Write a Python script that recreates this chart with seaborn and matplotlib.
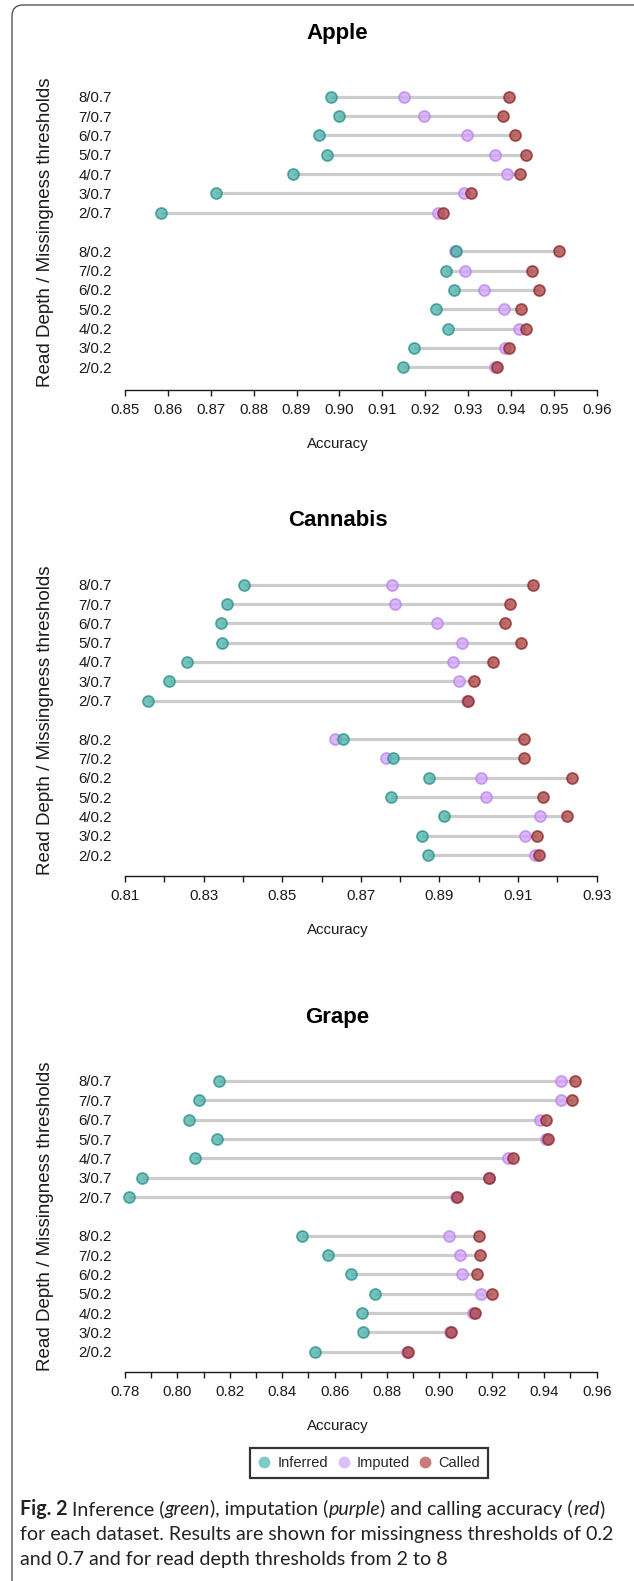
import matplotlib
matplotlib.use("Agg")
import matplotlib.pyplot as plt
from matplotlib.lines import Line2D
from matplotlib.patches import FancyBboxPatch
from matplotlib.transforms import IdentityTransform
from matplotlib.font_manager import FontProperties
import seaborn as sns

# ---- data (rows top to bottom: 8/0.7 ... 2/0.7, 8/0.2 ... 2/0.2) ----
row_labels = ["8/0.7", "7/0.7", "6/0.7", "5/0.7", "4/0.7", "3/0.7", "2/0.7",
              "8/0.2", "7/0.2", "6/0.2", "5/0.2", "4/0.2", "3/0.2", "2/0.2"]
row_pos = [15, 14, 13, 12, 11, 10, 9, 7, 6, 5, 4, 3, 2, 1]

apple_inferred = [0.8980, 0.9000, 0.8952, 0.8972, 0.8891, 0.8712, 0.8584,
                  0.9273, 0.9249, 0.9268, 0.9225, 0.9254, 0.9174, 0.9148]
apple_imputed = [0.9150, 0.9197, 0.9298, 0.9362, 0.9390, 0.9290, 0.9229,
                 0.9270, 0.9293, 0.9338, 0.9383, 0.9419, 0.9386, 0.9363]
apple_called = [0.9395, 0.9381, 0.9409, 0.9434, 0.9420, 0.9308, 0.9241,
                0.9513, 0.9449, 0.9465, 0.9423, 0.9434, 0.9395, 0.9368]

cannabis_inferred = [0.8404, 0.8359, 0.8344, 0.8346, 0.8258, 0.8212, 0.8158,
                     0.8655, 0.8783, 0.8874, 0.8776, 0.8912, 0.8855, 0.8870]
cannabis_imputed = [0.8778, 0.8786, 0.8894, 0.8957, 0.8934, 0.8950, 0.8970,
                    0.8635, 0.8763, 0.9006, 0.9018, 0.9155, 0.9118, 0.9143]
cannabis_called = [0.9138, 0.9079, 0.9067, 0.9108, 0.9037, 0.8987, 0.8973,
                   0.9114, 0.9116, 0.9237, 0.9163, 0.9224, 0.9147, 0.9153]

grape_inferred = [0.8159, 0.8084, 0.8044, 0.8150, 0.8068, 0.7866, 0.7815,
                  0.8475, 0.8576, 0.8662, 0.8754, 0.8704, 0.8707, 0.8525]
grape_imputed = [0.9464, 0.9464, 0.9382, 0.9405, 0.9260, 0.9188, 0.9064,
                 0.9036, 0.9077, 0.9086, 0.9157, 0.9127, 0.9040, 0.8878]
grape_called = [0.9517, 0.9507, 0.9405, 0.9414, 0.9282, 0.9190, 0.9066,
                0.9150, 0.9155, 0.9144, 0.9199, 0.9136, 0.9044, 0.8881]

apple_ticks = [0.85, 0.86, 0.87, 0.88, 0.89, 0.90, 0.91, 0.92, 0.93, 0.94, 0.95, 0.96]
apple_ticklabels = ["0.85", "0.86", "0.87", "0.88", "0.89", "0.90",
                    "0.91", "0.92", "0.93", "0.94", "0.95", "0.96"]
cannabis_ticks = [0.81, 0.82, 0.83, 0.84, 0.85, 0.86, 0.87, 0.88, 0.89, 0.90, 0.91, 0.92, 0.93]
cannabis_ticklabels = ["0.81", "", "0.83", "", "0.85", "", "0.87", "",
                       "0.89", "", "0.91", "", "0.93"]
grape_ticks = [0.78, 0.79, 0.80, 0.81, 0.82, 0.83, 0.84, 0.85, 0.86, 0.87,
               0.88, 0.89, 0.90, 0.91, 0.92, 0.93, 0.94, 0.95, 0.96]
grape_ticklabels = ["0.78", "", "0.80", "", "0.82", "", "0.84", "", "0.86", "",
                    "0.88", "", "0.90", "", "0.92", "", "0.94", "", "0.96"]

series_names = ["Inferred", "Imputed", "Called"]

# ---- style ----
W, H = 634, 1581
DPI = 100
sns.set_style("white")
plt.rcParams["font.family"] = ["Liberation Sans", "DejaVu Sans"]

fill = {"Inferred": "#4db2a9", "Imputed": "#d2a4f8", "Called": "#aa4544"}
edge = {"Inferred": "#2c948b", "Imputed": "#bd85ef", "Called": "#8f2a2b"}
legend_fill = {"Inferred": "#7fcac4", "Imputed": "#dcc0fb", "Called": "#c67a7a"}
line_gray = "#cccccc"
ink = "#1a1a1a"

fig = plt.figure(figsize=(W / DPI, H / DPI), dpi=DPI)
fig.patch.set_facecolor("white")

# px helpers
def fx(px):
    return px / W

def fy(px):
    return 1 - px / H


AX_LEFT, AX_RIGHT = 125.0, 596.7
LABEL_CX = 337.5

panels = [
    dict(title="Apple", inferred=apple_inferred, imputed=apple_imputed, called=apple_called,
         ticks=apple_ticks, ticklabels=apple_ticklabels,
         row_top=96.7, row_bot=367.3, axis_px=390, title_px=33),
    dict(title="Cannabis", inferred=cannabis_inferred, imputed=cannabis_imputed, called=cannabis_called,
         ticks=cannabis_ticks, ticklabels=cannabis_ticklabels,
         row_top=584.7, row_bot=855.0, axis_px=876, title_px=521),
    dict(title="Grape", inferred=grape_inferred, imputed=grape_imputed, called=grape_called,
         ticks=grape_ticks, ticklabels=grape_ticklabels,
         row_top=1081.0, row_bot=1351.7, axis_px=1371.7, title_px=1017),
]

for p in panels:
    step = (p["row_bot"] - p["row_top"]) / 14.0
    top_px = p["row_top"] - 0.6 * step
    bot_px = p["row_bot"] + 0.6 * step
    ax = fig.add_axes([fx(AX_LEFT), fy(bot_px), fx(AX_RIGHT) - fx(AX_LEFT),
                       (bot_px - top_px) / H])
    ax.set_facecolor("none")

    vals = {"Inferred": p["inferred"], "Imputed": p["imputed"], "Called": p["called"]}
    lo = [min(a, b, c) for a, b, c in zip(p["inferred"], p["imputed"], p["called"])]
    hi = [max(a, b, c) for a, b, c in zip(p["inferred"], p["imputed"], p["called"])]
    ax.hlines(row_pos, lo, hi, color=line_gray, lw=2.3, zorder=1)

    for name in ["Imputed", "Inferred", "Called"]:
        sns.scatterplot(x=vals[name], y=row_pos, ax=ax, color=fill[name],
                        edgecolor=edge[name], linewidth=1.3, s=62, alpha=0.78,
                        legend=False, zorder=3, clip_on=False)

    ax.set_xlim(p["ticks"][0], p["ticks"][-1])
    ax.set_ylim(0.4, 15.6)
    ax.set_xticks(p["ticks"])
    ax.set_xticklabels(p["ticklabels"])
    ax.set_yticks(row_pos)
    ax.set_yticklabels(row_labels)
    ax.set_xlabel("")
    ax.set_ylabel("")

    for side in ["top", "right", "left"]:
        ax.spines[side].set_visible(False)
    ax.spines["bottom"].set_bounds(p["ticks"][0], p["ticks"][-1])
    ax.spines["bottom"].set_position(("outward", (p["axis_px"] - bot_px) * 72 / DPI))
    ax.spines["bottom"].set_color(ink)
    ax.spines["bottom"].set_linewidth(1.0)
    ax.tick_params(axis="x", direction="out", length=4.5, width=1.0, color=ink,
                   labelsize=10.8, labelcolor=ink, pad=5, bottom=True)
    ax.tick_params(axis="y", length=0, labelsize=10.8, labelcolor=ink, pad=9.5, left=False)

    fig.text(fx(LABEL_CX), fy(p["title_px"]), p["title"], ha="center", va="center",
             fontsize=16, fontweight="bold", color="black")
    fig.text(fx(LABEL_CX), fy(p["axis_px"] + 54), "Accuracy", ha="center", va="center",
             fontsize=10.8, color=ink)
    fig.text(fx(46), fy((p["row_top"] + p["row_bot"]) / 2), "Read Depth / Missingness thresholds",
             ha="center", va="center", rotation=90, fontsize=13.5, color=ink)

# legend
handles = [Line2D([0], [0], marker="o", linestyle="none", markersize=7.5,
                  markerfacecolor=legend_fill[n], markeredgecolor=legend_fill[n], label=n)
           for n in series_names]
leg = fig.legend(handles=handles, loc="center", bbox_to_anchor=(fx(369), fy(1463)),
                 ncol=3, frameon=True, fancybox=False, fontsize=10.5,
                 handlelength=0.9, handletextpad=0.45, columnspacing=0.6,
                 borderpad=0.55, borderaxespad=0)
leg.get_frame().set_edgecolor("black")
leg.get_frame().set_linewidth(1.6)

# outer rounded border of the figure panel
border = FancyBboxPatch((12, -40), 700, H - 5 + 40, boxstyle="round,pad=0,rounding_size=11",
                        transform=IdentityTransform(), facecolor="none",
                        edgecolor="#555555", linewidth=1.0)
fig.add_artist(border)

# caption with mixed styles
renderer = fig.canvas.get_renderer()
cap_family = "Lato"
cap_lines = [
    [("Fig. 2", "bold", "normal"), ("Inference (", "normal", "normal"), ("green", "normal", "italic"),
     ("), imputation (", "normal", "normal"), ("purple", "normal", "italic"),
     (") and calling accuracy (", "normal", "normal"), ("red", "normal", "italic"),
     (")", "normal", "normal")],
    [("for each dataset. Results are shown for missingness thresholds of 0.2", "normal", "normal")],
    [("and 0.7 and for read depth thresholds from 2 to 8", "normal", "normal")],
]
cap_gap_after = [{0}, set(), set()]


def text_w(s, size, weight="normal", style="normal"):
    prop = FontProperties(family=cap_family, size=size, weight=weight, style=style)
    w, _, _ = renderer.get_text_width_height_descent(s, prop, ismath=False)
    return w


def space_w(size):
    return text_w("a a", size) - text_w("aa", size)


# fit the second caption line to its width in the reference
ref_size = 12.0
line2_w = sum(text_w(t, ref_size, wt, st) for t, wt, st in cap_lines[1])
cap_size = ref_size * 590.0 / line2_w

cap_x0 = 20.0
cap_baselines = [1515, 1540, 1565]
for i, runs in enumerate(cap_lines):
    x = cap_x0
    for j, (t, wt, st) in enumerate(runs):
        fig.text(fx(x), fy(cap_baselines[i]), t, ha="left", va="baseline", family=cap_family,
                 fontsize=cap_size, fontweight=wt, fontstyle=st, color="#222222")
        x += text_w(t, cap_size, wt, st)
        if j in cap_gap_after[i]:
            x += space_w(cap_size)

fig.savefig("out.png", dpi=DPI)
